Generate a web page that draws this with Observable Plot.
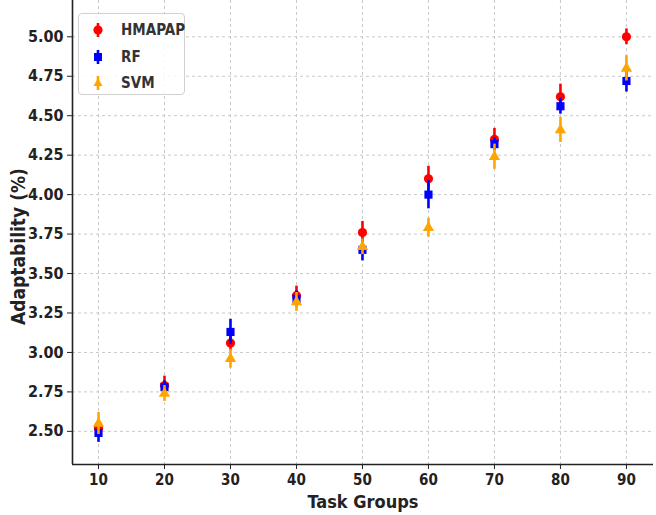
<!DOCTYPE html>
<html>
<head>
<meta charset="utf-8">
<script src="https://cdn.jsdelivr.net/npm/d3@7"></script>
<script src="https://cdn.jsdelivr.net/npm/@observablehq/plot@0.6"></script>
<style>
  html, body { margin: 0; padding: 0; background: #fff; }
  #wrap { position: relative; width: 656px; height: 515px; }
  #wrap svg text { font-family: "DejaVu Sans Condensed", "DejaVu Sans", sans-serif; font-weight: bold; fill: #222; }
  g[aria-label="x-axis label"] text { font-size: 18px; }
  g[aria-label="y-axis label"] text { font-size: 19px; font-family: "DejaVu Sans", sans-serif; }
  #legend { position: absolute; left: 78px; top: 13px; width: 107px; height: 82px; border: 1px solid #d0d0d0; border-radius: 4px; background: rgba(255,255,255,0.85); font-family: "DejaVu Sans Condensed", "DejaVu Sans", sans-serif; font-weight: bold; font-size: 15px; color: #333; box-sizing: border-box; }
  .row { position: absolute; left: 10px; height: 20px; display: flex; align-items: center; }
  .row svg { width: 18px; height: 20px; margin-right: 14px; }
</style>
</head>
<body>
<div id="wrap"></div>
<script>
const taskGroups = [10, 20, 30, 40, 50, 60, 70, 80, 90];
const seriesNames = ["HMAPAP", "RF", "SVM"];
const hmapap = [2.52, 2.79, 3.06, 3.36, 3.76, 4.10, 4.35, 4.62, 5.00];
const hmapapErr = [0.05, 0.06, 0.05, 0.06, 0.07, 0.08, 0.07, 0.08, 0.05];
const rf = [2.49, 2.78, 3.13, 3.34, 3.65, 4.00, 4.32, 4.56, 4.72];
const rfErr = [0.06, 0.04, 0.08, 0.05, 0.07, 0.09, 0.04, 0.05, 0.07];
const svm = [2.55, 2.74, 2.96, 3.32, 3.67, 3.79, 4.24, 4.41, 4.80];
const svmErr = [0.07, 0.05, 0.06, 0.06, 0.05, 0.06, 0.08, 0.08, 0.08];
const yTicks = [2.50, 2.75, 3.00, 3.25, 3.50, 3.75, 4.00, 4.25, 4.50, 4.75, 5.00];

const colors = {HMAPAP: "#ff0000", RF: "#0000ff", SVM: "#ffa500"};
const symbols = {HMAPAP: "circle", RF: "square", SVM: "triangle"};
const sizes = {HMAPAP: 4.6, RF: 4.6, SVM: 4.2};

const allValues = [hmapap, rf, svm];
const allErr = [hmapapErr, rfErr, svmErr];
const data = [];
seriesNames.forEach((s, i) => {
  taskGroups.forEach((g, j) => {
    data.push({series: s, group: g, value: allValues[i][j], err: allErr[i][j]});
  });
});

const xDomain = [6.06, 94.1];
const yDomain = [2.29, 5.23];

const marks = [
  Plot.gridX(taskGroups, {stroke: "#c8c8c8", strokeOpacity: 1, strokeDasharray: "3,3", strokeWidth: 1}),
  Plot.gridY(yTicks, {stroke: "#c8c8c8", strokeOpacity: 1, strokeDasharray: "3,3", strokeWidth: 1}),
  Plot.ruleX([xDomain[0]], {stroke: "#222", strokeWidth: 1.6}),
  Plot.ruleY([yDomain[0]], {stroke: "#222", strokeWidth: 1.6}),
  Plot.axisX(taskGroups, {tickSize: 5, tickPadding: 5, fontSize: 15, label: "Task Groups", labelAnchor: "center", labelOffset: 43, labelArrow: "none", stroke: "#222"}),
  Plot.axisY(yTicks, {tickSize: 5, tickPadding: 4, fontSize: 16, tickFormat: d3.format(".2f"), label: "Adaptability (%)", labelAnchor: "center", labelOffset: 61, labelArrow: "none", stroke: "#222"})
];
seriesNames.forEach(s => {
  const d = data.filter(r => r.series === s);
  marks.push(Plot.ruleX(d, {x: "group", y1: r => r.value - r.err, y2: r => r.value + r.err, stroke: colors[s], strokeWidth: 2.6}));
  marks.push(Plot.dot(d, {x: "group", y: "value", symbol: symbols[s], fill: colors[s], stroke: "none", r: sizes[s]}));
});

const chart = Plot.plot({
  width: 656,
  height: 515,
  marginLeft: 72,
  marginRight: 3,
  marginTop: 0,
  marginBottom: 51,
  x: {domain: xDomain, label: "Task Groups"},
  y: {domain: yDomain, label: "Adaptability (%)"},
  style: {background: "#fff", overflow: "visible"},
  marks
});
const ylab = chart.querySelector('g[aria-label="y-axis label"]');
if (ylab) {
  const prev = ylab.getAttribute("transform") || "";
  ylab.setAttribute("transform", "translate(0,14) " + prev);
}
const wrap = document.getElementById("wrap");
wrap.appendChild(chart);

// legend overlay
const legend = document.createElement("div");
legend.id = "legend";
const rowTops = [6, 33, 59];
seriesNames.forEach((s, i) => {
  const row = document.createElement("div");
  row.className = "row";
  row.style.top = rowTops[i] + "px";
  let marker;
  if (s === "HMAPAP") marker = `<circle cx="9" cy="10" r="4.6" fill="${colors[s]}"/>`;
  else if (s === "RF") marker = `<rect x="5" y="6" width="8" height="8" fill="${colors[s]}"/>`;
  else marker = `<path d="M9,5 L13.5,13 L4.5,13 Z" fill="${colors[s]}"/>`;
  row.innerHTML = `<svg viewBox="0 0 18 20"><line x1="9" x2="9" y1="3" y2="17" stroke="${colors[s]}" stroke-width="2.6"/>${marker}</svg><span>${s}</span>`;
  legend.appendChild(row);
});
wrap.appendChild(legend);
</script>
</body>
</html>
